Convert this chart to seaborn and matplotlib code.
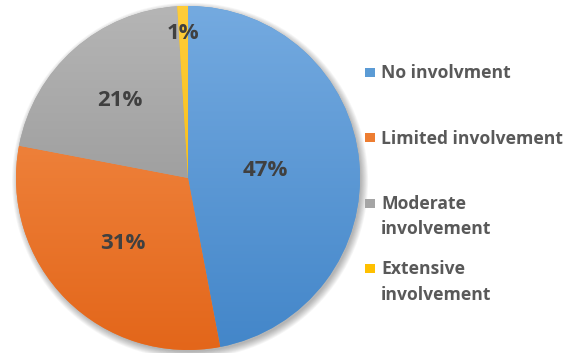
import numpy as np
import matplotlib
matplotlib.use("Agg")
import matplotlib.pyplot as plt
import seaborn as sns
from matplotlib.colors import LinearSegmentedColormap
from matplotlib.patches import Rectangle, Circle

# Survey shares by level of involvement
categories = ["No involvment", "Limited involvement",
              "Moderate\ninvolvement", "Extensive\ninvolvement"]
shares = [47, 31, 21, 1]
pct_labels = ["47%", "31%", "21%", "1%"]

# Two-tone fills (top -> bottom) for each slice
colors_light = ["#74aae0", "#f5924f", "#b5b5b5", "#ffcd3a"]
colors_dark = ["#4386c9", "#e3661a", "#8b8b8b", "#f2b400"]
base_colors = ["#5b9bd5", "#ed7d31", "#a5a5a5", "#ffc000"]
# radial position of each percentage label (fraction of radius)
label_r = [0.45, 0.54, 0.60, 0.84]

sns.set_theme(style="white")
plt.rcParams["font.family"] = ["Open Sans", "DejaVu Sans"]

W, H = 567, 353
fig = plt.figure(figsize=(W / 100, H / 100), dpi=100)
fig.patch.set_facecolor("white")

R_PX = 172
cx, cy = 188, H - 178
lim = 1.06
size = R_PX * lim * 2
ax = fig.add_axes([(cx - size / 2) / W, (cy - size / 2) / H, size / W, size / H])

# soft drop shadow toward the lower right
for k in range(9):
    ax.add_patch(Circle((0.012, -0.016), 0.995 + k * 0.005, facecolor="black",
                        edgecolor="none", alpha=0.035, zorder=0))

wedges, _ = ax.pie(shares, startangle=90, counterclock=False, radius=1,
                   colors=base_colors, wedgeprops=dict(linewidth=0))

grad = np.linspace(0, 1, 256).reshape(-1, 1)
for w, c0, c1 in zip(wedges, colors_light, colors_dark):
    w.set_zorder(1)
    cmap = LinearSegmentedColormap.from_list("g", [c0, c1])
    im = ax.imshow(grad, cmap=cmap, extent=(-1, 1, -1, 1), origin="upper",
                   aspect="auto", zorder=2, interpolation="bilinear")
    im.set_clip_path(w)
ax.set_xlim(-lim, lim)
ax.set_ylim(-lim, lim)
ax.set_aspect("equal")
ax.axis("off")

# percentage labels placed along each slice's mid-angle
for w, txt, r in zip(wedges, pct_labels, label_r):
    ang = np.deg2rad((w.theta1 + w.theta2) / 2)
    ax.text(r * np.cos(ang), r * np.sin(ang), txt, ha="center", va="center",
            fontsize=16, fontweight="bold", color="#404040", zorder=5)

# legend: square key aligned with the first line of each entry
legend_rows = [72.5, 137.5, 203, 268]
line_step = 25.5
for cat, col, y in zip(categories, base_colors, legend_rows):
    fig.patches.append(Rectangle((365 / W, (H - y - 4.5) / H), 9.5 / W, 9 / H,
                                 transform=fig.transFigure, facecolor=col,
                                 edgecolor="none"))
    for i, line in enumerate(cat.split("\n")):
        base = y + 6 + i * line_step
        fig.text(381 / W, (H - base) / H, line, ha="left", va="baseline",
                 fontsize=12.6, fontweight="bold", color="#595959",
                 transform=fig.transFigure)

fig.savefig("out.png", dpi=100)
